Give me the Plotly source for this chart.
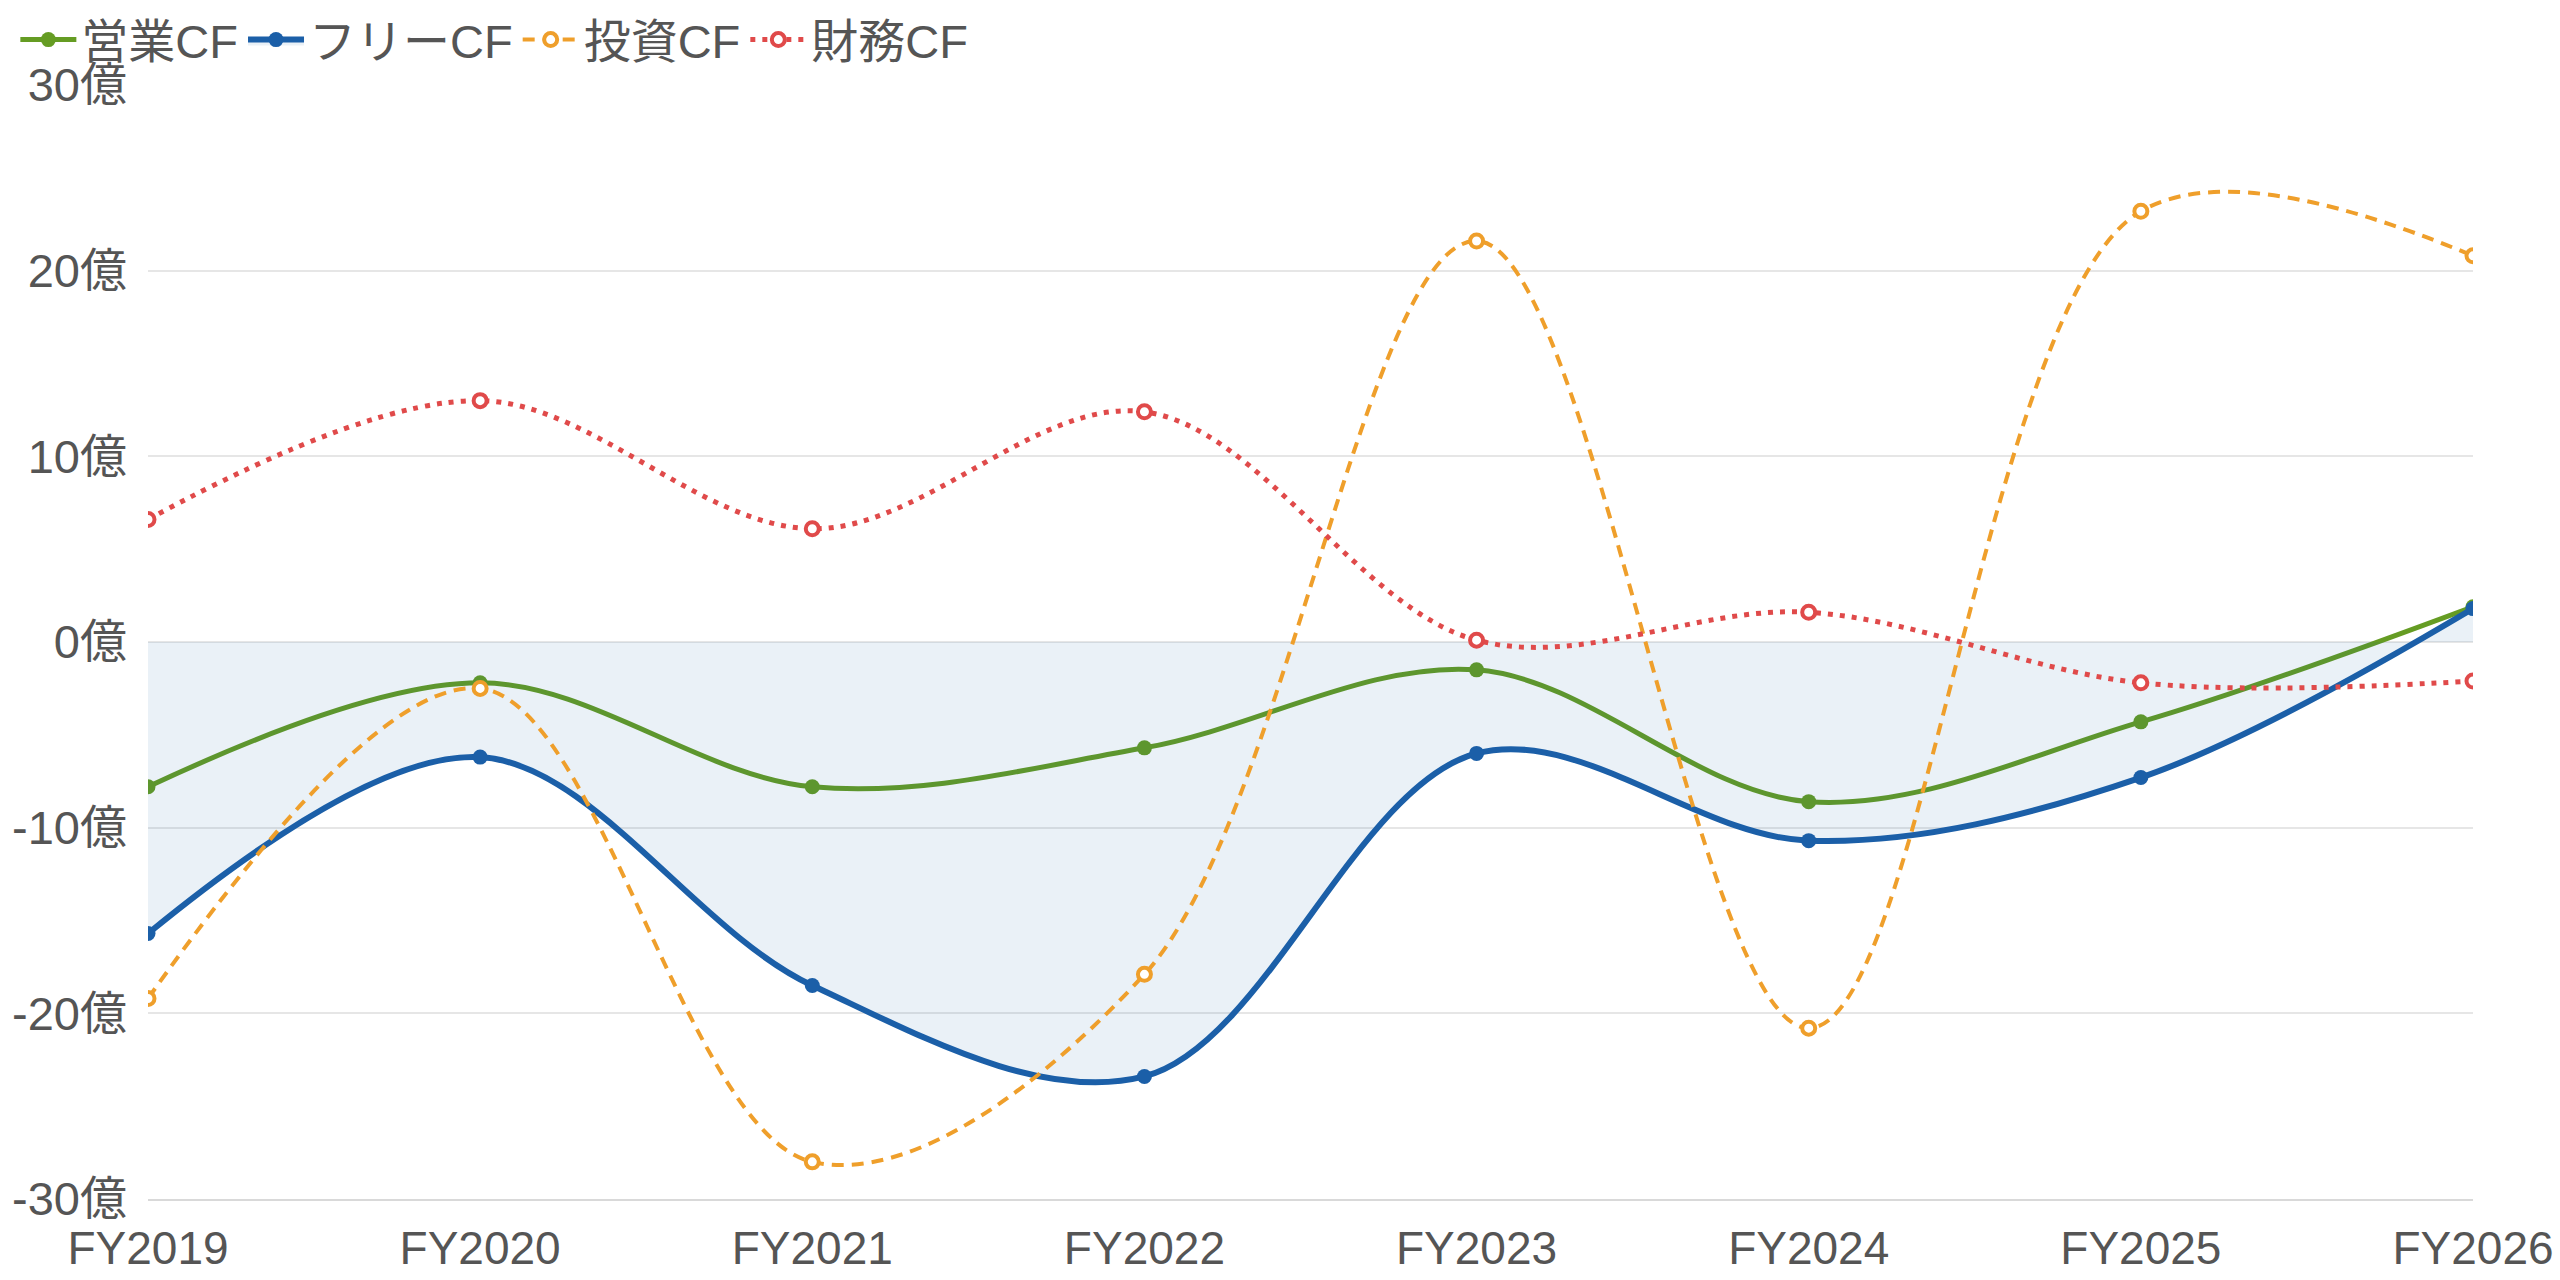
import plotly.graph_objects as go

years = ["FY2019", "FY2020", "FY2021", "FY2022", "FY2023", "FY2024", "FY2025", "FY2026"]
operating_cf = [-7.8, -2.2, -7.8, -5.7, -1.5, -8.6, -4.3, 1.9]
free_cf = [-15.7, -6.2, -18.5, -23.4, -6.0, -10.7, -7.3, 1.8]
investing_cf = [-19.2, -2.5, -28.0, -17.9, 21.6, -20.8, 23.2, 20.8]
financing_cf = [6.6, 13.0, 6.1, 12.4, 0.1, 1.6, -2.2, -2.1]
y_ticks = [-30, -20, -10, 0, 10, 20, 30]
y_labels = [f"{v}億" for v in y_ticks]

GREEN = "#659c23"
BLUE = "#1b5fa8"
ORANGE = "#ef9f2b"
RED = "#e04a4a"

fig = go.Figure()

fig.add_trace(go.Scatter(
    x=years, y=operating_cf, name="営業CF", mode="lines+markers",
    line=dict(color=GREEN, width=5, shape="spline", smoothing=1),
    marker=dict(size=15, color=GREEN),
))
fig.add_trace(go.Scatter(
    x=years, y=free_cf, name="フリーCF", mode="lines+markers",
    line=dict(color=BLUE, width=6, shape="spline", smoothing=1),
    marker=dict(size=15, color=BLUE),
    fill="tozeroy", fillcolor="rgba(27,95,168,0.09)",
))
fig.add_trace(go.Scatter(
    x=years, y=investing_cf, name="投資CF", mode="lines+markers",
    line=dict(color=ORANGE, width=4, shape="spline", smoothing=1, dash="12px,8px"),
    marker=dict(size=13, color="white", line=dict(color=ORANGE, width=4)),
))
fig.add_trace(go.Scatter(
    x=years, y=financing_cf, name="財務CF", mode="lines+markers",
    line=dict(color=RED, width=5, shape="spline", smoothing=1, dash="5px,7px"),
    marker=dict(size=13, color="white", line=dict(color=RED, width=4)),
))

FONT = "Liberation Sans, Arial, Noto Sans CJK JP, sans-serif"

fig.update_layout(
    width=2560, height=1280,
    margin=dict(l=148, r=87, t=85, b=81, autoexpand=False),
    paper_bgcolor="white", plot_bgcolor="white",
    font=dict(family=FONT, size=46, color="#555555"),
    showlegend=True,
    legend=dict(orientation="h", x=0.006, xref="container", y=0.998, yref="container",
                xanchor="left", yanchor="top", font=dict(size=47, color="#555555"),
                itemwidth=56, tracegroupgap=0, bgcolor="rgba(0,0,0,0)"),
    xaxis=dict(type="category", range=[0, 7], showgrid=False, zeroline=False,
               showline=True, linecolor="#d9d9d9", linewidth=2, automargin=False,
               ticks="", tickfont=dict(size=46, color="#555555"), ticklabelstandoff=8),
    yaxis=dict(range=[-30, 30], tickvals=y_ticks, ticktext=y_labels, automargin=False,
               showgrid=True, gridcolor="#e6e6e6", gridwidth=2, zeroline=False,
               ticks="", tickfont=dict(size=47, color="#555555"), ticklabelstandoff=20),
)

fig.write_html("out.html")
